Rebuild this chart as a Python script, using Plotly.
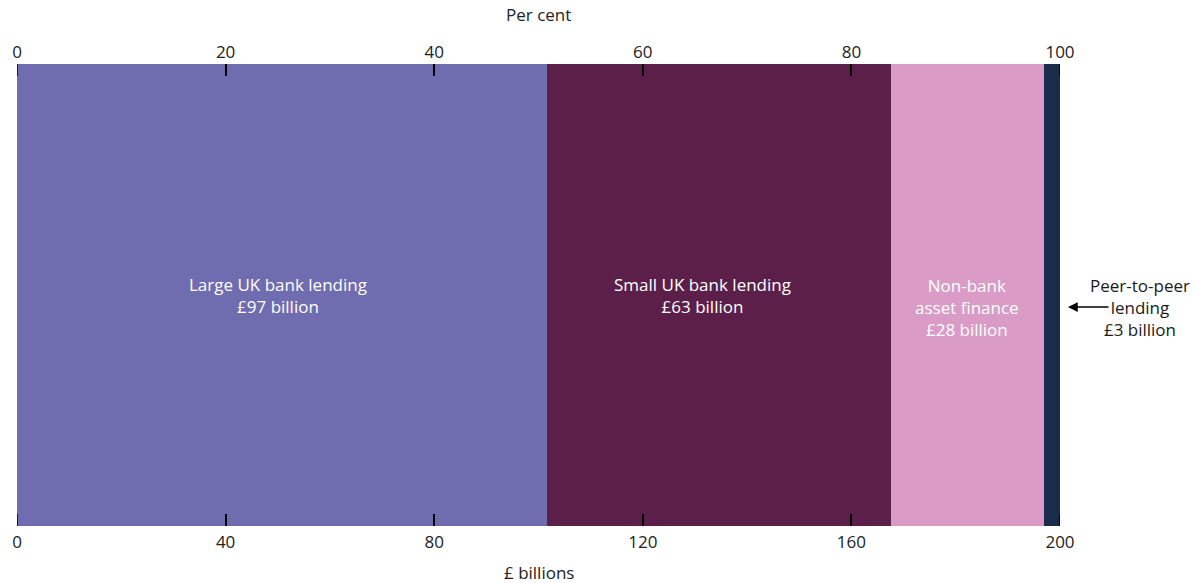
import plotly.graph_objects as go

# Lending to small businesses by source, £ billions
categories = ["Large UK bank lending", "Small UK bank lending", "Non-bank asset finance", "Peer-to-peer lending"]
labels = ["Large UK bank lending<br>£97 billion", "Small UK bank lending<br>£63 billion",
          "Non-bank<br>asset finance<br>£28 billion", "Peer-to-peer<br>lending<br>£3 billion"]
values_bn = [97, 63, 28, 3]
colors = ["#6F6CAF", "#5C1F4A", "#DA9CC6", "#1A2B4C"]
pct_ticks = [0, 20, 40, 60, 80, 100]
bn_ticks = [0, 40, 80, 120, 160, 200]

total = sum(values_bn)
shares = [v / total * 100 for v in values_bn]

FONT = "Open Sans"
fig = go.Figure()

for name, share, col in zip(categories, shares, colors):
    fig.add_trace(go.Bar(
        x=[share], y=[0], orientation="h", name=name,
        marker=dict(color=col, line=dict(width=0)),
        xaxis="x2", yaxis="y", width=1, showlegend=False,
        hoverinfo="name+x",
    ))

# empty trace so the £ billions axis is drawn
fig.add_trace(go.Scatter(x=[0, 200], y=[0, 0], xaxis="x", yaxis="y", mode="markers",
                         marker=dict(opacity=0), showlegend=False, hoverinfo="skip"))

# labels inside the three wide blocks
label_xshift = [-4, -16, 0]
label_yshift = [0, 0, -12]
cum = 0
for i, share in enumerate(shares):
    mid = cum + share / 2
    cum += share
    if i < 3:
        fig.add_annotation(x=mid, y=0, xref="x2", yref="y", text=labels[i],
                           xshift=label_xshift[i], yshift=label_yshift[i],
                           showarrow=False, font=dict(family=FONT, size=17, color="white"),
                           align="center")

# peer-to-peer label outside with arrow
fig.add_annotation(x=1.0, y=0.5, xref="paper", yref="paper", xshift=80, yshift=-12,
                   xanchor="center", text=labels[3], showarrow=False,
                   font=dict(family=FONT, size=17, color="#1a1a1a"), align="center")
fig.add_annotation(x=1.0, y=0.5, xref="paper", yref="paper", xshift=8, yshift=-12, ax=42, ay=0,
                   axref="pixel", ayref="pixel", text="", showarrow=True,
                   arrowhead=2, arrowsize=1.3, arrowwidth=1.5, arrowcolor="#000")

fig.add_annotation(x=0.5, y=1, xref="paper", yref="paper", yshift=36, yanchor="bottom",
                   text="Per cent", showarrow=False, font=dict(family=FONT, size=17, color="#222"))
fig.add_annotation(x=0.5, y=0, xref="paper", yref="paper", yshift=-33, yanchor="top",
                   text="£ billions", showarrow=False, font=dict(family=FONT, size=17, color="#222"))

# tick marks at the two ends of both axes (drawn over the bars)
for xv in (bn_ticks[0], bn_ticks[-1]):
    for anchor in (0, 1):
        fig.add_shape(type="line", xref="x", yref="paper", x0=xv, x1=xv,
                      ysizemode="pixel", yanchor=anchor,
                      y0=0, y1=(12 if anchor == 0 else -12),
                      line=dict(color="#000", width=1.5), layer="above")

fig.update_layout(
    width=1194, height=583,
    margin=dict(l=14, r=134, t=64, b=57),
    paper_bgcolor="white", plot_bgcolor="white",
    barmode="stack", bargap=0,
    font=dict(family=FONT, size=17, color="#222"),
    xaxis=dict(range=[0, 200], tickvals=bn_ticks, ticks="inside", ticklen=12, tickwidth=1.5,
               tickcolor="#000", showgrid=False, zeroline=False, showline=False,
               ticklabelstandoff=4, side="bottom", layer="above traces", anchor="y"),
    xaxis2=dict(range=[0, 100], tickvals=pct_ticks, ticks="inside", ticklen=12, tickwidth=1.5,
                tickcolor="#000", showgrid=False, zeroline=False, showline=False,
                overlaying="x", side="top", anchor="y", ticklabelstandoff=2, layer="above traces"),
    yaxis=dict(range=[-0.5, 0.5], visible=False, fixedrange=True),
)

fig.write_html("out.html")
